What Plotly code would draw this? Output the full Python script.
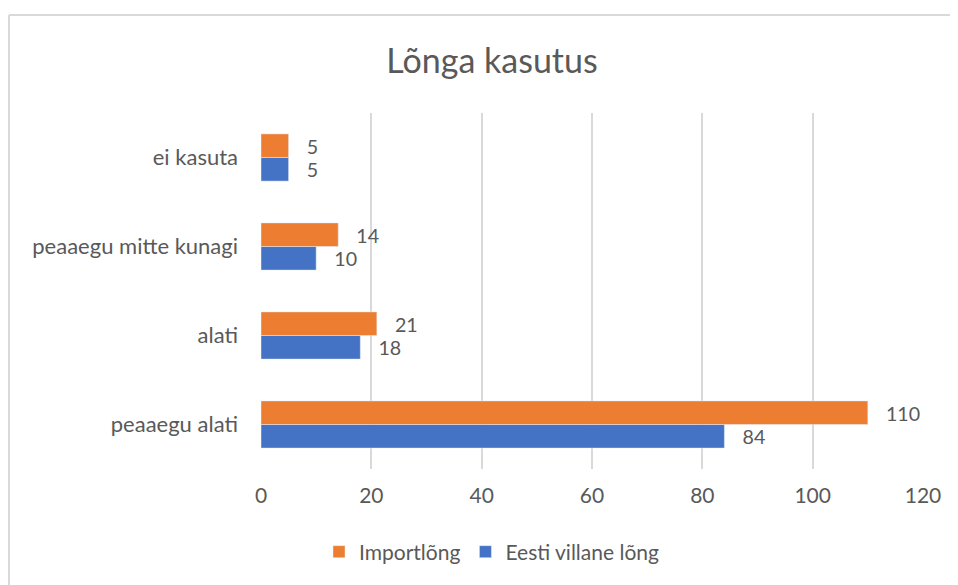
import plotly.graph_objects as go

categories = ['peaaegu alati', 'alati', 'peaaegu mitte kunagi', 'ei kasuta']
eesti = [84, 18, 10, 5]
import_ = [110, 21, 14, 5]

# page body has an 8px margin, so figure coords = screen coords - 8
OFF = 8
W, H = 958 - OFF, 585 - OFF
ml, mt = 261 - OFF, 113 - OFF
pw, ph = 923 - 261, 469 - 113
mr, mb = W - ml - pw, H - mt - ph

txt = '#595959'
font = 'Lato'
pad = '\u00a0\u00a0\u00a0'

fig = go.Figure()
fig.add_trace(go.Bar(y=categories, x=eesti, orientation='h', name='Eesti villane lõng',
                     marker_color='#4472c4', texttemplate=pad + '%{x}', textposition='outside',
                     textfont=dict(color=txt, size=20), cliponaxis=False, legendrank=2))
fig.add_trace(go.Bar(y=categories, x=import_, orientation='h', name='Importlõng',
                     marker_color='#ed7d31', texttemplate=pad + '%{x}', textposition='outside',
                     textfont=dict(color=txt, size=20), cliponaxis=False, legendrank=1))

# chart border (top and left edges visible)
bx, by = 9 - OFF, 15 - OFF
fig.add_shape(type='line', xref='paper', yref='paper',
              x0=(bx - ml) / pw, x1=(W + 5 - ml) / pw,
              y0=1 + (mt - by) / ph, y1=1 + (mt - by) / ph,
              line=dict(color='#d9d9d9', width=2))
fig.add_shape(type='line', xref='paper', yref='paper',
              x0=(bx - ml) / pw, x1=(bx - ml) / pw,
              y0=1 + (mt - by) / ph, y1=-(mb + 5) / ph,
              line=dict(color='#d9d9d9', width=2))

fig.update_layout(
    width=W, height=H,
    margin=dict(l=ml, r=mr, t=mt, b=mb),
    paper_bgcolor='white', plot_bgcolor='white',
    barmode='group', bargap=0.47, bargroupgap=0,
    font=dict(family=font, color=txt, size=20),
    title=dict(text='Lõnga kasutus', x=(492 - OFF) / W, xanchor='center',
               y=1 - (61 - OFF) / H, yanchor='middle', font=dict(size=34, color=txt)),
    legend=dict(orientation='h', x=(492 - OFF - ml) / pw, xanchor='center',
                y=-(552 - 469) / ph, yanchor='middle',
                font=dict(size=21, color=txt), itemwidth=30),
    showlegend=True,
)
fig.update_xaxes(range=[0, 120], dtick=20, showgrid=True, gridcolor='#d9d9d9', gridwidth=2,
                 zeroline=False, showline=False, ticks='', tickfont=dict(size=21, color=txt),
                 ticklabelstandoff=12)
fig.update_yaxes(showgrid=False, zeroline=False, showline=False, ticks='',
                 tickfont=dict(size=22, color=txt), ticklabelstandoff=22)

fig.write_html('out.html')
